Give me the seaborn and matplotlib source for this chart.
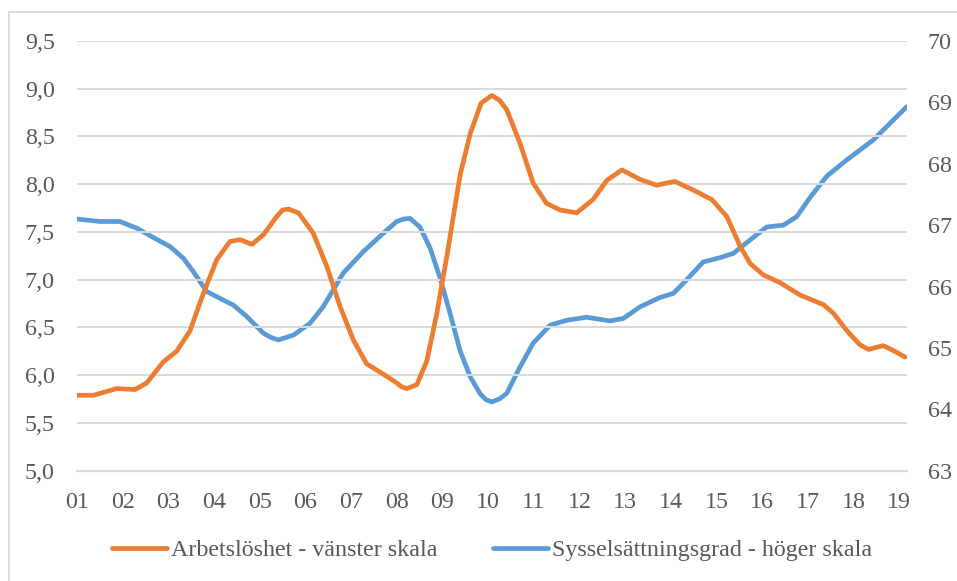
import matplotlib
matplotlib.use("Agg")
import matplotlib.pyplot as plt
import seaborn as sns
import pandas as pd
from matplotlib.patches import Rectangle

# ---- data ----
unemp_year = [2001.00, 2001.36, 2001.87, 2002.27, 2002.53, 2002.89, 2003.18, 2003.47, 2003.77,
              2004.06, 2004.35, 2004.57, 2004.83, 2005.08, 2005.37, 2005.50, 2005.63, 2005.85,
              2006.17, 2006.47, 2006.76, 2007.05, 2007.34, 2007.71, 2008.00, 2008.10, 2008.22,
              2008.44, 2008.66, 2008.88, 2009.10, 2009.39, 2009.61, 2009.85, 2010.08, 2010.25,
              2010.41, 2010.70, 2010.99, 2011.28, 2011.58, 2011.94, 2012.30, 2012.60, 2012.93,
              2013.33, 2013.69, 2014.09, 2014.49, 2014.90, 2015.23, 2015.52, 2015.74, 2016.03,
              2016.39, 2016.83, 2017.34, 2017.56, 2017.85, 2018.14, 2018.33, 2018.65, 2018.87,
              2019.13]
unemp_val = [5.79, 5.79, 5.86, 5.85, 5.92, 6.14, 6.25, 6.46, 6.86,
             7.21, 7.40, 7.42, 7.37, 7.47, 7.66, 7.73, 7.74, 7.70,
             7.49, 7.14, 6.72, 6.37, 6.12, 6.01, 5.92, 5.88, 5.86,
             5.90, 6.15, 6.65, 7.25, 8.10, 8.53, 8.85, 8.93, 8.88,
             8.78, 8.43, 8.01, 7.80, 7.73, 7.70, 7.84, 8.04, 8.15,
             8.05, 7.99, 8.03, 7.94, 7.84, 7.66, 7.35, 7.17, 7.05,
             6.97, 6.84, 6.74, 6.65, 6.47, 6.32, 6.27, 6.31, 6.26,
             6.19]

emp_year = [2001.00, 2001.50, 2001.94, 2002.31, 2002.67, 2003.04, 2003.33, 2003.55, 2003.84,
            2004.20, 2004.42, 2004.72, 2005.08, 2005.25, 2005.41, 2005.74, 2006.10, 2006.39,
            2006.83, 2007.27, 2007.71, 2008.00, 2008.15, 2008.29, 2008.51, 2008.73, 2008.95,
            2009.17, 2009.39, 2009.61, 2009.83, 2009.95, 2010.08, 2010.25, 2010.41, 2010.70,
            2010.99, 2011.36, 2011.72, 2012.16, 2012.67, 2012.96, 2013.33, 2013.76, 2014.06,
            2014.35, 2014.71, 2015.08, 2015.37, 2015.74, 2016.10, 2016.47, 2016.76, 2017.05,
            2017.42, 2017.85, 2018.44, 2018.87, 2019.17]
emp_val = [67.10, 67.06, 67.06, 66.95, 66.80, 66.65, 66.46, 66.24, 65.92,
           65.78, 65.70, 65.51, 65.24, 65.17, 65.13, 65.21, 65.40, 65.67,
           66.22, 66.57, 66.87, 67.06, 67.10, 67.11, 66.97, 66.63, 66.14,
           65.56, 64.95, 64.53, 64.25, 64.16, 64.12, 64.17, 64.26, 64.69,
           65.08, 65.37, 65.45, 65.50, 65.44, 65.48, 65.67, 65.82, 65.89,
           66.11, 66.40, 66.47, 66.54, 66.76, 66.97, 67.00, 67.14, 67.45,
           67.80, 68.06, 68.39, 68.71, 68.93]

x_ticks = list(range(2001, 2020))
x_labels = [f"{y % 100:02d}" for y in x_ticks]
left_ticks = [5.0, 5.5, 6.0, 6.5, 7.0, 7.5, 8.0, 8.5, 9.0, 9.5]
right_ticks = [63, 64, 65, 66, 67, 68, 69, 70]

label_unemp = "Arbetslöshet - vänster skala"
label_emp = "Sysselsättningsgrad - höger skala"

# ---- style ----
sns.set_style("white")
plt.rcParams["font.family"] = ["Liberation Serif", "DejaVu Serif"]
TXT = "#595959"
GRID = "#D9D9D9"
ORANGE = "#ED7D31"
BLUE = "#5B9BD5"
FS = 17.3

fig = plt.figure(figsize=(9.57, 5.81), dpi=100)
W, H = 957, 581
ax = fig.add_axes([77 / W, 1 - 470.7 / H, (907 - 77) / W, (470.7 - 41) / H])
ax2 = ax.twinx()

# outer frame
fig.patches.append(Rectangle((8.5 / W, -0.1), 1.2, 1 - 12.5 / H + 0.1,
                             transform=fig.transFigure, fill=False,
                             edgecolor=GRID, linewidth=1.3, zorder=0))

df_u = pd.DataFrame({"year": unemp_year, "val": unemp_val})
df_e = pd.DataFrame({"year": emp_year, "val": emp_val})

ax.set_zorder(ax2.get_zorder() + 1)
ax.patch.set_visible(False)

sns.lineplot(data=df_e, x="year", y="val", ax=ax2, color=BLUE, linewidth=3.4,
             solid_capstyle="round", solid_joinstyle="round", legend=False)
sns.lineplot(data=df_u, x="year", y="val", ax=ax, color=ORANGE, linewidth=3.4,
             solid_capstyle="round", solid_joinstyle="round", legend=False)

xmax = 2001 + 830 / 45.67
ax.set_xlim(2001, xmax)
ax.set_ylim(5.0, 9.5)
ax2.set_ylim(63, 70)

ax.set_yticks(left_ticks)
ax.set_yticklabels([f"{v:.1f}".replace(".", ",") for v in left_ticks])
ax2.set_yticks(right_ticks)
ax2.set_yticklabels([str(v) for v in right_ticks])
ax.set_xticks(x_ticks)
ax.set_xticklabels(x_labels)

ax.set_xlabel("")
ax.set_ylabel("")
ax2.set_xlabel("")
ax2.set_ylabel("")

ax.yaxis.grid(True, color=GRID, linewidth=1.4)
ax.xaxis.grid(False)
ax2.grid(False)
ax.set_axisbelow(True)

for a in (ax, ax2):
    for s in a.spines.values():
        s.set_visible(False)
ax.spines["bottom"].set_visible(True)
ax.spines["bottom"].set_color(GRID)
ax.spines["bottom"].set_linewidth(1.6)

ax.tick_params(axis="x", length=7, width=1.4, color=GRID, direction="out",
               labelsize=FS, labelcolor=TXT, pad=8)
ax.tick_params(axis="y", length=0, labelsize=FS, labelcolor=TXT, pad=16)
ax2.tick_params(axis="y", length=0, labelsize=FS, labelcolor=TXT, pad=15)

handles = [plt.Line2D([], [], color=ORANGE, linewidth=3.4, solid_capstyle="round"),
           plt.Line2D([], [], color=BLUE, linewidth=3.4, solid_capstyle="round")]
fig.legend(handles, [label_unemp, label_emp], loc="center",
           bbox_to_anchor=(492 / W, 1 - 550 / H), ncol=2, frameon=False,
           fontsize=FS, labelcolor=TXT, handlelength=2.3, handletextpad=0.15,
           columnspacing=2.3)

fig.savefig("out.png", dpi=100)
